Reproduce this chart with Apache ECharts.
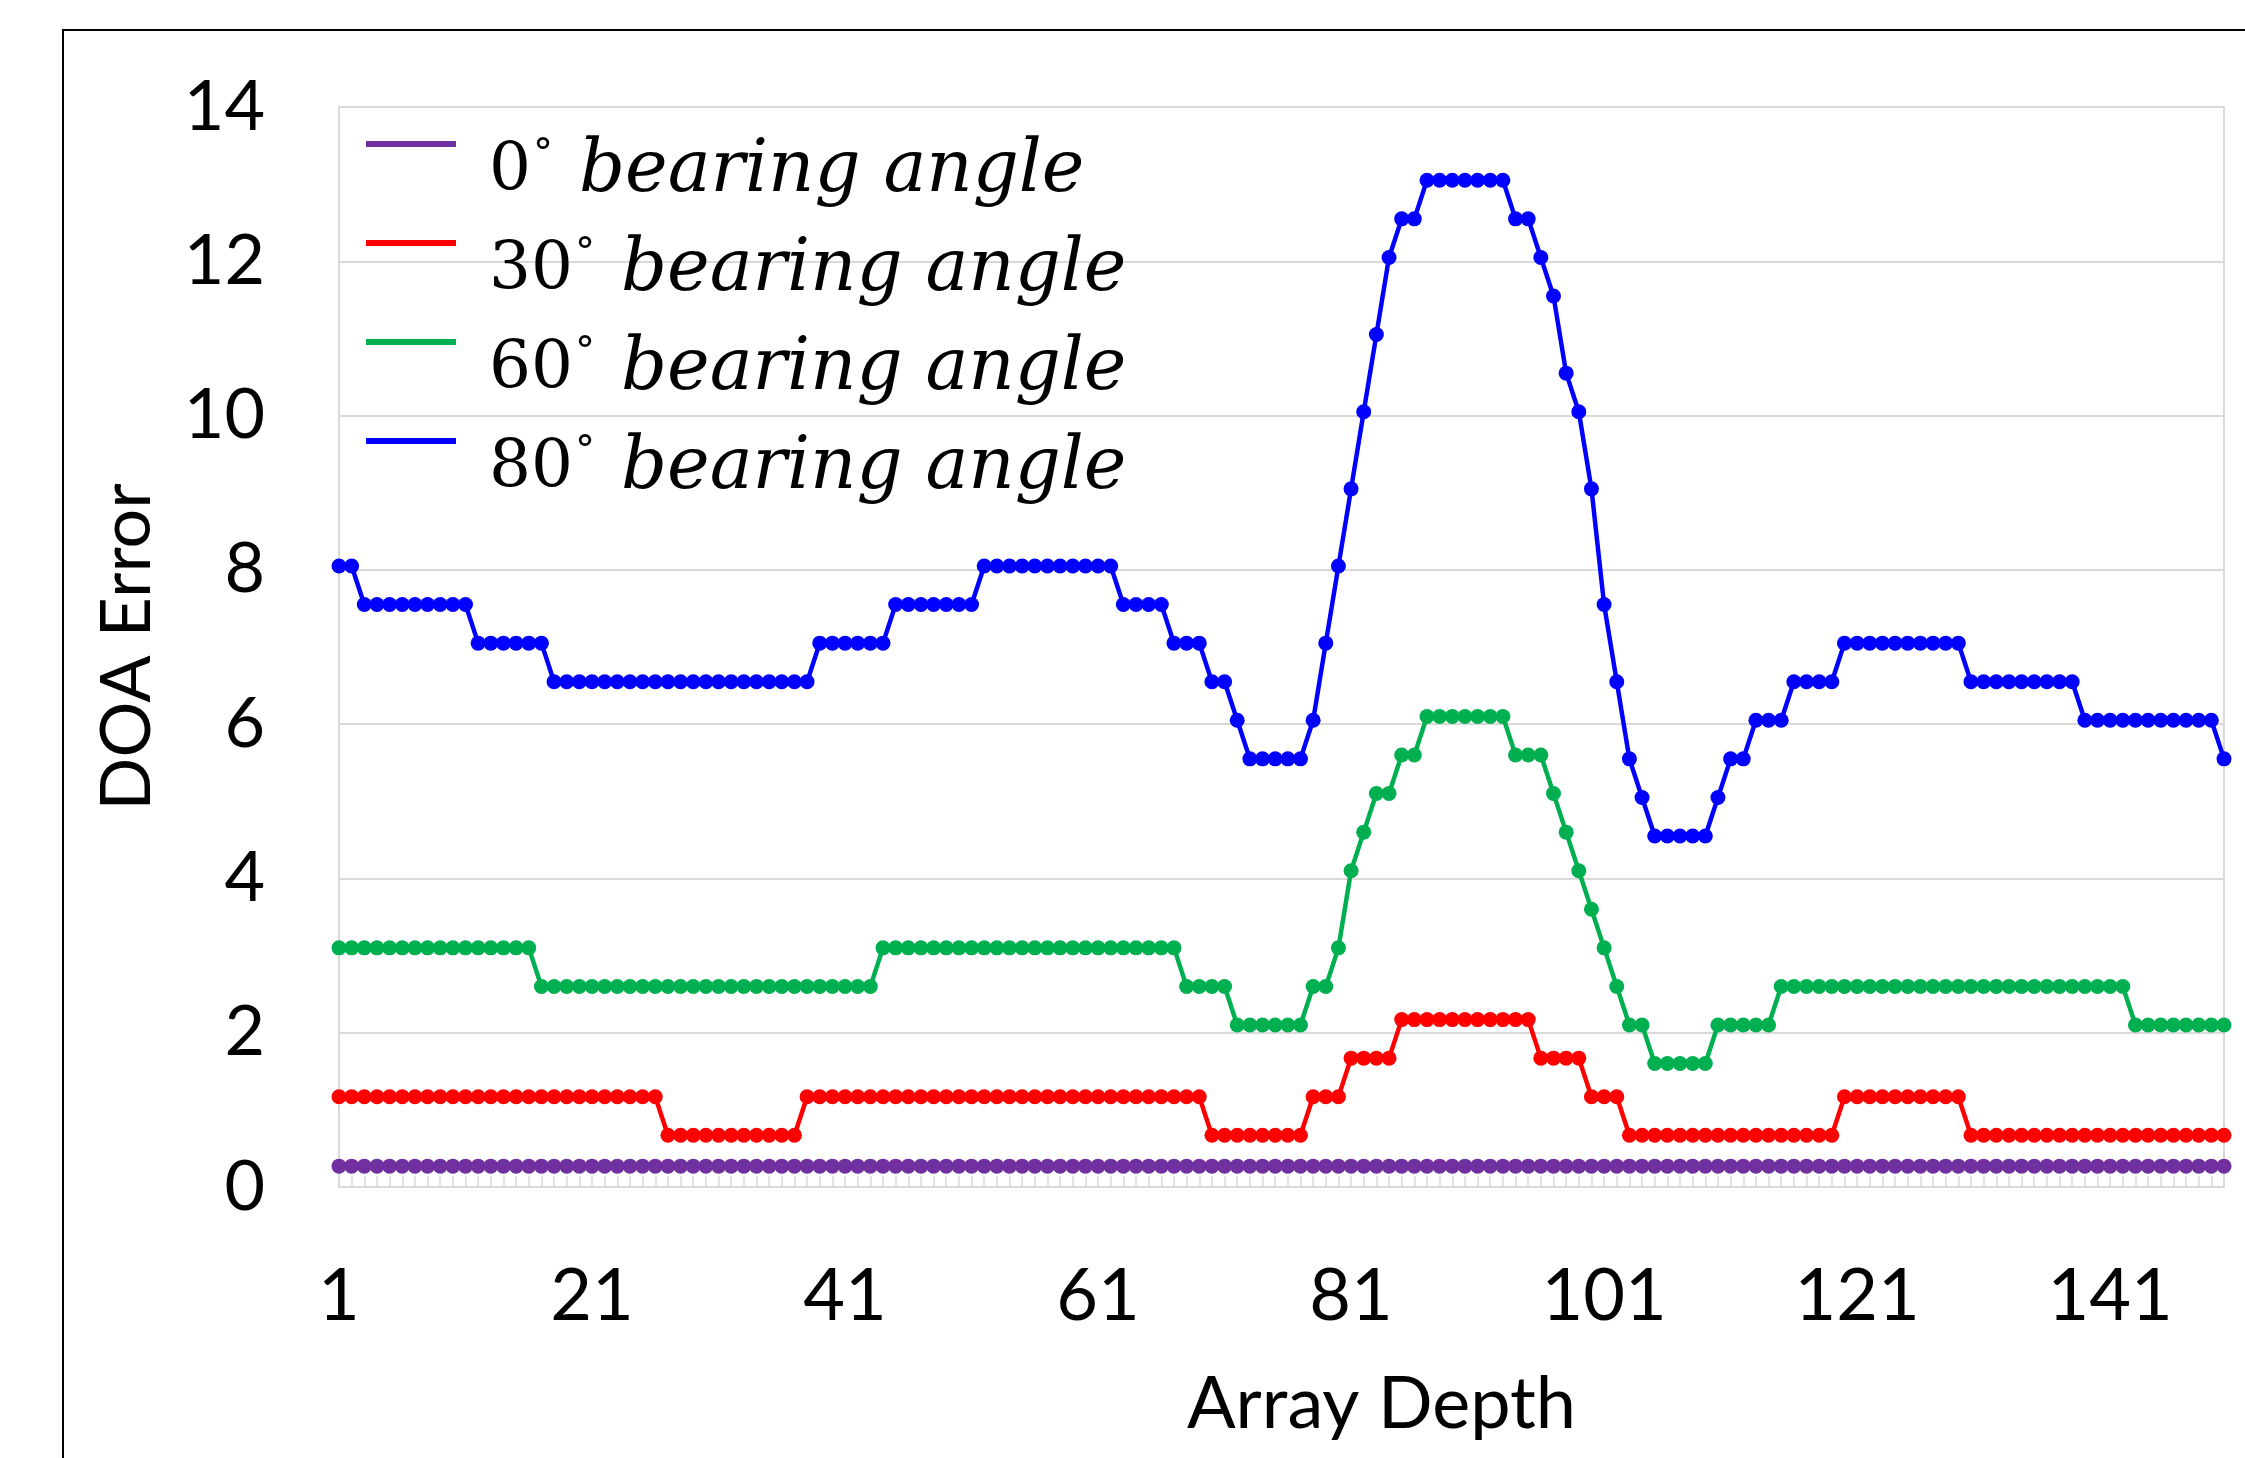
<!DOCTYPE html>
<html><head><meta charset="utf-8">
<script src="https://cdn.jsdelivr.net/npm/echarts@6/dist/echarts.min.js"></script>
<style>
html,body{margin:0;padding:0;background:#fff;overflow:hidden;}
#chart{position:absolute;left:0;top:0;width:2245px;height:1458px;}
#frame{position:absolute;left:62px;top:29px;width:2400px;height:1600px;border-left:2px solid #000;border-top:2px solid #000;pointer-events:none;}
</style></head><body>
<div id="chart"></div><div id="frame"></div>
<script>
const categories = Array.from({length: 150}, (_, i) => String(i + 1));
const seriesNames = ['0° bearing angle', '30° bearing angle', '60° bearing angle', '80° bearing angle'];
const yTicks = [0, 2, 4, 6, 8, 10, 12, 14];

const deg0 = [
  0.27,0.27,0.27,0.27,0.27,0.27,0.27,0.27,0.27,0.27,
  0.27,0.27,0.27,0.27,0.27,0.27,0.27,0.27,0.27,0.27,
  0.27,0.27,0.27,0.27,0.27,0.27,0.27,0.27,0.27,0.27,
  0.27,0.27,0.27,0.27,0.27,0.27,0.27,0.27,0.27,0.27,
  0.27,0.27,0.27,0.27,0.27,0.27,0.27,0.27,0.27,0.27,
  0.27,0.27,0.27,0.27,0.27,0.27,0.27,0.27,0.27,0.27,
  0.27,0.27,0.27,0.27,0.27,0.27,0.27,0.27,0.27,0.27,
  0.27,0.27,0.27,0.27,0.27,0.27,0.27,0.27,0.27,0.27,
  0.27,0.27,0.27,0.27,0.27,0.27,0.27,0.27,0.27,0.27,
  0.27,0.27,0.27,0.27,0.27,0.27,0.27,0.27,0.27,0.27,
  0.27,0.27,0.27,0.27,0.27,0.27,0.27,0.27,0.27,0.27,
  0.27,0.27,0.27,0.27,0.27,0.27,0.27,0.27,0.27,0.27,
  0.27,0.27,0.27,0.27,0.27,0.27,0.27,0.27,0.27,0.27,
  0.27,0.27,0.27,0.27,0.27,0.27,0.27,0.27,0.27,0.27,
  0.27,0.27,0.27,0.27,0.27,0.27,0.27,0.27,0.27,0.27
];
const deg30 = [
  1.17,1.17,1.17,1.17,1.17,1.17,1.17,1.17,1.17,1.17,
  1.17,1.17,1.17,1.17,1.17,1.17,1.17,1.17,1.17,1.17,
  1.17,1.17,1.17,1.17,1.17,1.17,0.67,0.67,0.67,0.67,
  0.67,0.67,0.67,0.67,0.67,0.67,0.67,1.17,1.17,1.17,
  1.17,1.17,1.17,1.17,1.17,1.17,1.17,1.17,1.17,1.17,
  1.17,1.17,1.17,1.17,1.17,1.17,1.17,1.17,1.17,1.17,
  1.17,1.17,1.17,1.17,1.17,1.17,1.17,1.17,1.17,0.67,
  0.67,0.67,0.67,0.67,0.67,0.67,0.67,1.17,1.17,1.17,
  1.67,1.67,1.67,1.67,2.17,2.17,2.17,2.17,2.17,2.17,
  2.17,2.17,2.17,2.17,2.17,1.67,1.67,1.67,1.67,1.17,
  1.17,1.17,0.67,0.67,0.67,0.67,0.67,0.67,0.67,0.67,
  0.67,0.67,0.67,0.67,0.67,0.67,0.67,0.67,0.67,1.17,
  1.17,1.17,1.17,1.17,1.17,1.17,1.17,1.17,1.17,0.67,
  0.67,0.67,0.67,0.67,0.67,0.67,0.67,0.67,0.67,0.67,
  0.67,0.67,0.67,0.67,0.67,0.67,0.67,0.67,0.67,0.67
];
const deg60 = [
  3.1,3.1,3.1,3.1,3.1,3.1,3.1,3.1,3.1,3.1,
  3.1,3.1,3.1,3.1,3.1,3.1,2.6,2.6,2.6,2.6,
  2.6,2.6,2.6,2.6,2.6,2.6,2.6,2.6,2.6,2.6,
  2.6,2.6,2.6,2.6,2.6,2.6,2.6,2.6,2.6,2.6,
  2.6,2.6,2.6,3.1,3.1,3.1,3.1,3.1,3.1,3.1,
  3.1,3.1,3.1,3.1,3.1,3.1,3.1,3.1,3.1,3.1,
  3.1,3.1,3.1,3.1,3.1,3.1,3.1,2.6,2.6,2.6,
  2.6,2.1,2.1,2.1,2.1,2.1,2.1,2.6,2.6,3.1,
  4.1,4.6,5.1,5.1,5.6,5.6,6.1,6.1,6.1,6.1,
  6.1,6.1,6.1,5.6,5.6,5.6,5.1,4.6,4.1,3.6,
  3.1,2.6,2.1,2.1,1.6,1.6,1.6,1.6,1.6,2.1,
  2.1,2.1,2.1,2.1,2.6,2.6,2.6,2.6,2.6,2.6,
  2.6,2.6,2.6,2.6,2.6,2.6,2.6,2.6,2.6,2.6,
  2.6,2.6,2.6,2.6,2.6,2.6,2.6,2.6,2.6,2.6,
  2.6,2.6,2.1,2.1,2.1,2.1,2.1,2.1,2.1,2.1
];
const deg80 = [
  8.05,8.05,7.55,7.55,7.55,7.55,7.55,7.55,7.55,7.55,
  7.55,7.05,7.05,7.05,7.05,7.05,7.05,6.55,6.55,6.55,
  6.55,6.55,6.55,6.55,6.55,6.55,6.55,6.55,6.55,6.55,
  6.55,6.55,6.55,6.55,6.55,6.55,6.55,6.55,7.05,7.05,
  7.05,7.05,7.05,7.05,7.55,7.55,7.55,7.55,7.55,7.55,
  7.55,8.05,8.05,8.05,8.05,8.05,8.05,8.05,8.05,8.05,
  8.05,8.05,7.55,7.55,7.55,7.55,7.05,7.05,7.05,6.55,
  6.55,6.05,5.55,5.55,5.55,5.55,5.55,6.05,7.05,8.05,
  9.05,10.05,11.05,12.05,12.55,12.55,13.05,13.05,13.05,13.05,
  13.05,13.05,13.05,12.55,12.55,12.05,11.55,10.55,10.05,9.05,
  7.55,6.55,5.55,5.05,4.55,4.55,4.55,4.55,4.55,5.05,
  5.55,5.55,6.05,6.05,6.05,6.55,6.55,6.55,6.55,7.05,
  7.05,7.05,7.05,7.05,7.05,7.05,7.05,7.05,7.05,6.55,
  6.55,6.55,6.55,6.55,6.55,6.55,6.55,6.55,6.05,6.05,
  6.05,6.05,6.05,6.05,6.05,6.05,6.05,6.05,6.05,5.55
];
const colors = ['#7030A0', '#FF0000', '#00B050', '#0000FF'];
const seriesData = [deg0, deg30, deg60, deg80];

const axisFont = 'Lato, "Open Sans", sans-serif';
const chart = echarts.init(document.getElementById('chart'), null, {renderer: 'canvas'});
chart.setOption({
  backgroundColor: '#ffffff',
  animation: false,
  grid: {left: 339, right: 21, top: 107, bottom: 271, show: true, borderColor: '#d9d9d9', borderWidth: 2},
  legend: {
    orient: 'vertical', left: 361, top: 131,
    itemWidth: 118, itemHeight: 62, itemGap: 27,
    icon: 'path://M0,0h90v6h-90z M117.99,61h0.01v1h-0.01z',
    itemStyle: {borderWidth: 0},
    data: seriesNames,
    formatter: function (name) {
      const num = name.split('°')[0];
      return '{n|' + num + '}{d|°}{i|bearing angle}';
    },
    textStyle: {
      color: '#000',
      rich: {
        n: {fontFamily: '"DejaVu Serif", serif', fontSize: 66, color: '#000'},
        d: {fontFamily: '"DejaVu Serif", serif', fontSize: 40, color: '#000', verticalAlign: 'top', padding: [0, 26, 0, 2]},
        i: {fontFamily: '"DejaVu Serif", serif', fontStyle: 'italic', fontSize: 72, color: '#000'}
      }
    }
  },
  xAxis: {
    type: 'category', data: categories, boundaryGap: false,
    axisLine: {lineStyle: {color: '#d9d9d9', width: 2}},
    axisTick: {show: true, inside: true, length: 11, interval: 0, lineStyle: {color: '#d9d9d9', width: 1.5}},
    axisLabel: {interval: 19, margin: 74, fontSize: 72, fontFamily: axisFont, color: '#000'},
    splitLine: {show: false},
    name: 'Array Depth', nameLocation: 'middle', nameGap: 182,
    nameTextStyle: {fontSize: 72, fontFamily: axisFont, color: '#000', padding: [0, 0, 0, 200]}
  },
  yAxis: {
    type: 'value', min: yTicks[0], max: yTicks[yTicks.length - 1], interval: 2,
    axisLine: {show: true, lineStyle: {color: '#d9d9d9', width: 2}},
    axisTick: {show: false},
    splitLine: {lineStyle: {color: '#d9d9d9', width: 2}},
    axisLabel: {margin: 74, fontSize: 70, fontFamily: axisFont, color: '#000'},
    name: 'DOA Error', nameLocation: 'middle', nameGap: 177, nameRotate: 90,
    nameTextStyle: {fontSize: 70, fontFamily: axisFont, color: '#000'}
  },
  series: seriesData.map((d, i) => ({
    name: seriesNames[i], type: 'line', data: d,
    symbol: 'circle', symbolSize: 15, showAllSymbol: true,
    lineStyle: {color: colors[i], width: 4.5},
    itemStyle: {color: colors[i], borderWidth: 0},
    emphasis: {disabled: true}
  }))
});
</script></body></html>
